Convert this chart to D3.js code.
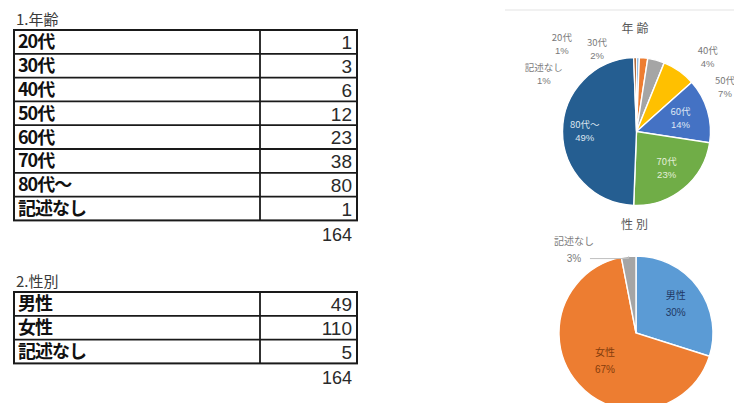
<!DOCTYPE html>
<html lang="ja">
<head>
<meta charset="utf-8">
<script src="https://cdn.jsdelivr.net/npm/d3@7/dist/d3.min.js"></script>
<style>
  html, body { margin: 0; padding: 0; background: #ffffff; }
  svg { display: block; }
  text { font-family: "Noto Sans CJK JP", "Noto Sans", sans-serif; }
  .num { font-family: "Liberation Sans", Arial, sans-serif; }
</style>
</head>
<body>
<svg id="chart" width="734" height="403"></svg>
<script>
// ---- survey data ----
const ageTitle = "1.年齢";
const ageCategories = ["20代", "30代", "40代", "50代", "60代", "70代", "80代～", "記述なし"];
const ageCounts = [1, 3, 6, 12, 23, 38, 80, 1];

const sexTitle = "2.性別";
const sexCategories = ["男性", "女性", "記述なし"];
const sexCounts = [49, 110, 5];

const agePieTitle = "年齢";
const sexPieTitle = "性別";

// Office palette used by the pie slices
const ageColors = ["#5B9BD5", "#ED7D31", "#A5A5A5", "#FFC000", "#4472C4", "#70AD47", "#255E91", "#9E480E"];
const sexColors = ["#5B9BD5", "#ED7D31", "#A5A5A5"];

const svg = d3.select("#chart");

// ---- tables ----
function drawTable(title, cats, counts, top, titleBaseline) {
  const g = svg.append("g");
  const x0 = 14, x1 = 357, xDiv = 260;
  const rowH = 23.8;
  const y = d3.scaleBand().domain(cats).range([top, top + rowH * cats.length]).padding(0);

  g.append("text")
    .attr("x", 16).attr("y", titleBaseline)
    .attr("font-size", 15).attr("fill", "#3a3a3a")
    .text(title);

  const rows = g.selectAll("g.row").data(cats).join("g").attr("class", "row");
  rows.append("text")
    .attr("x", 18)
    .attr("y", d => y(d) + y.bandwidth() / 2)
    .attr("dy", "0.36em")
    .attr("font-size", 18).attr("font-weight", 700).attr("fill", "#111")
    .attr("letter-spacing", -1)
    .text(d => d);
  rows.append("text")
    .attr("class", "num")
    .attr("x", 352)
    .attr("y", d => y(d) + y.bandwidth() / 2)
    .attr("dy", "0.38em")
    .attr("text-anchor", "end")
    .attr("font-size", 19).attr("fill", "#2a2a2a")
    .text((d, i) => counts[i]);

  // grid lines
  const lineColor = "#1a1a1a";
  cats.slice(1).forEach(c => {
    g.append("line").attr("x1", x0).attr("x2", x1).attr("y1", y(c)).attr("y2", y(c))
      .attr("stroke", lineColor).attr("stroke-width", 1.8);
  });
  g.append("line").attr("x1", xDiv).attr("x2", xDiv).attr("y1", y.range()[0]).attr("y2", y.range()[1])
    .attr("stroke", lineColor).attr("stroke-width", 1.8);
  g.append("rect").attr("x", x0).attr("y", y.range()[0])
    .attr("width", x1 - x0).attr("height", y.range()[1] - y.range()[0])
    .attr("fill", "none").attr("stroke", lineColor).attr("stroke-width", 2);

  // total under the table
  g.append("text").attr("class", "num")
    .attr("x", 352).attr("y", y.range()[1] + 21)
    .attr("text-anchor", "end")
    .attr("font-size", 18).attr("fill", "#2a2a2a")
    .text(d3.sum(counts));
}

drawTable(ageTitle, ageCategories, ageCounts, 30, 24.5);
drawTable(sexTitle, sexCategories, sexCounts, 292, 286.5);

// ---- pies ----
svg.append("line").attr("x1", 505).attr("x2", 734).attr("y1", 10).attr("y2", 10)
  .attr("stroke", "#e4e4e4").attr("stroke-width", 1.2);

const pct = d3.format(".0%");

function drawPie(opts) {
  const { cats, counts, colors, cx, cy, r, title, titleY, fontSize, lineGap,
          innerFill, outside, innerK } = opts;
  const total = d3.sum(counts);
  const data = cats.map((c, i) => ({ cat: c, value: counts[i], color: colors[i], i }));
  const arcs = d3.pie().sort(null).value(d => d.value)(data);
  const arc = d3.arc().innerRadius(0).outerRadius(r);
  const g = svg.append("g").attr("transform", `translate(${cx},${cy})`);

  g.selectAll("path").data(arcs).join("path")
    .attr("d", arc)
    .attr("fill", d => d.data.color)
    .attr("stroke", "#ffffff").attr("stroke-width", 1.4);

  svg.append("text")
    .attr("x", cx).attr("y", titleY)
    .attr("text-anchor", "middle")
    .attr("font-size", 12).attr("letter-spacing", 3).attr("fill", "#595959")
    .text(title);

  arcs.forEach(a => {
    const d = a.data;
    const place = outside[d.cat];
    let px, py, fill;
    if (place) {
      const ang = place.angle * Math.PI / 180;
      px = Math.sin(ang) * r * place.dist;
      py = -Math.cos(ang) * r * place.dist;
      fill = "#7a7a7a";
      if (place.leader) {
        const mid = (a.startAngle + a.endAngle) / 2;
        const ex = Math.sin(mid) * r, ey = -Math.cos(mid) * r;
        g.append("polyline")
          .attr("points", [[px + 16, py + lineGap / 2], [ex, py + lineGap / 2], [ex, ey]].map(p => p.join(",")).join(" "))
          .attr("fill", "none").attr("stroke", "#bfbfbf").attr("stroke-width", 1);
      }
    } else {
      const c = d3.arc().innerRadius(0).outerRadius(r * 2 * innerK[d.cat]).centroid(a);
      px = c[0]; py = c[1];
      fill = innerFill[d.cat];
    }
    const t = g.append("text")
      .attr("text-anchor", "middle")
      .attr("font-size", fontSize).attr("fill", fill);
    t.append("tspan").attr("x", px).attr("y", py - lineGap / 2).attr("dy", "0.35em").text(d.cat);
    t.append("tspan").attr("class", "num").attr("x", px).attr("y", py + lineGap / 2).attr("dy", "0.35em")
      .text(pct(d.value / total));
  });
}

drawPie({
  cats: ageCategories, counts: ageCounts, colors: ageColors,
  cx: 636.5, cy: 131.5, r: 74,
  title: agePieTitle, titleY: 33, fontSize: 9.5, lineGap: 13,
  innerK: { "60代": 0.62, "70代": 0.64, "80代～": 0.7 },
  innerFill: { "60代": "#dfe7f5", "70代": "#e3efd9", "80代～": "#dde6f0" },
  outside: {
    "20代": { angle: -40.6, dist: 1.55 },
    "30代": { angle: -25.7, dist: 1.23 },
    "40代": { angle: 43.8, dist: 1.39 },
    "50代": { angle: 63.6, dist: 1.335 },
    "記述なし": { angle: -58.4, dist: 1.47 }
  }
});

drawPie({
  cats: sexCategories, counts: sexCounts, colors: sexColors,
  cx: 636, cy: 333, r: 77,
  title: sexPieTitle, titleY: 229, fontSize: 10, lineGap: 17,
  innerK: { "男性": 0.64, "女性": 0.54 },
  innerFill: { "男性": "#1f3864", "女性": "#843c0c" },
  outside: {
    "記述なし": { angle: -36.8, dist: 1.345, leader: true }
  }
});
</script>
</body>
</html>
